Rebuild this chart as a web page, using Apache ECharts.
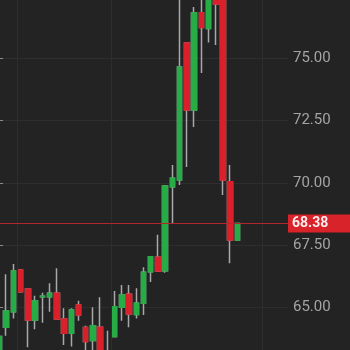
<!DOCTYPE html>
<html>
<head>
<meta charset="utf-8">
<script src="https://cdn.jsdelivr.net/npm/echarts@6/dist/echarts.min.js"></script>
<style>
html,body{margin:0;padding:0;background:#232323;}
#c{width:350px;height:350px;}
</style>
</head>
<body>
<div id="c"></div>
<script>
// 41 category slots: 34 candles + 7 empty slots to the right
var categories = [];
for (var k = 1; k <= 41; k++) categories.push('D' + k);

var opens  = [63.10,64.21,64.84,66.51,65.75,64.51,65.44,65.44,65.58,64.55,63.97,65.11,64.20,63.68,64.21,62.90,63.84,65.02,65.54,64.73,65.18,66.44,67.02,66.48,69.85,70.12,75.61,72.93,76.83,76.20,77.50,77.45,70.05,67.71];
var closes = [63.84,64.87,66.47,65.64,64.51,65.27,65.46,65.58,64.55,63.97,64.91,64.71,63.64,64.27,63.20,63.20,65.04,65.51,64.75,65.18,66.42,67.04,66.47,69.88,70.19,74.65,72.93,76.82,76.24,77.45,77.18,70.12,67.71,68.38];
var lows   = [62.90,63.87,64.57,65.60,63.41,64.13,64.40,64.84,64.53,63.50,63.44,64.48,62.90,63.00,62.90,62.70,63.80,64.48,64.21,64.57,64.71,66.03,66.43,66.40,68.38,69.92,70.64,72.25,74.41,75.64,75.53,69.52,66.78,67.71];
var highs  = [63.90,66.34,66.75,66.55,65.77,65.48,65.60,65.98,66.58,64.98,64.98,65.28,64.27,65.02,65.42,64.07,65.67,65.91,65.91,65.78,66.62,67.07,67.92,69.92,70.72,77.60,75.63,77.06,77.45,77.60,77.70,77.70,70.72,68.40];
var lastPrice = 68.38;
var dividers = [2.5, 15.5, 36.5];

var full = [], bodies = [];
for (var i = 0; i < opens.length; i++) {
  full.push([opens[i], closes[i], lows[i], highs[i]]);
  bodies.push([opens[i], closes[i], Math.min(opens[i], closes[i]), Math.max(opens[i], closes[i])]);
}

var UP = '#27ad45', DOWN = '#d9202b', WICK = '#a8a8a8';
var chart = echarts.init(document.getElementById('c'), null, {renderer: 'canvas'});
chart.setOption({
  backgroundColor: '#232323',
  animation: false,
  grid: {left: -1, right: 62, top: -4, bottom: -20, containLabel: false, outerBoundsMode: 'none'},
  xAxis: [{
    type: 'category', data: categories, boundaryGap: false,
    axisLine: {show: false}, axisTick: {show: false}, axisLabel: {show: false},
    splitLine: {show: false}
  }, {
    type: 'value', min: 0, max: 40, show: false
  }],
  yAxis: {
    type: 'value', position: 'right', min: 62.5, max: 77.5, interval: 2.5, scale: true,
    axisLine: {show: true, lineStyle: {color: '#8a8a8a', width: 1}},
    axisTick: {show: true, length: 4, lineStyle: {color: '#8a8a8a'}},
    axisLabel: {color: '#a4a4a4', fontSize: 15, fontFamily: 'Roboto', margin: 5,
      showMaxLabel: true, showMinLabel: true,
      formatter: function (v) { return v.toFixed(2); }},
    splitLine: {show: true, lineStyle: {color: '#2e2e2e', width: 1}}
  },
  series: [{
    type: 'line', xAxisIndex: 1, data: [], silent: true,
    markLine: {
      silent: true, symbol: 'none', label: {show: false},
      lineStyle: {color: '#2e2e2e', type: 'solid', width: 1},
      data: dividers.map(function (d) { return {xAxis: d}; })
    }
  }, {
    type: 'candlestick', data: full, barWidth: 5, silent: true,
    itemStyle: {color: WICK, color0: WICK, borderColor: WICK, borderColor0: WICK, borderWidth: 1.5}
  }, {
    type: 'candlestick', data: bodies, barWidth: 5, silent: true,
    itemStyle: {color: UP, color0: DOWN, borderColor: UP, borderColor0: DOWN, borderWidth: 1.5},
    markLine: {
      silent: true, symbol: 'none',
      lineStyle: {color: '#b3262b', type: 'solid', width: 1},
      label: {
        show: true, position: 'end', distance: 0,
        formatter: function () { return lastPrice.toFixed(2); },
        color: '#ffecec', fontSize: 14, fontWeight: 'bold', fontFamily: 'Roboto',
        backgroundColor: '#d9232b', padding: [2, 40, 2, 4]
      },
      data: [{yAxis: lastPrice}]
    }
  }]
});
</script>
</body>
</html>
